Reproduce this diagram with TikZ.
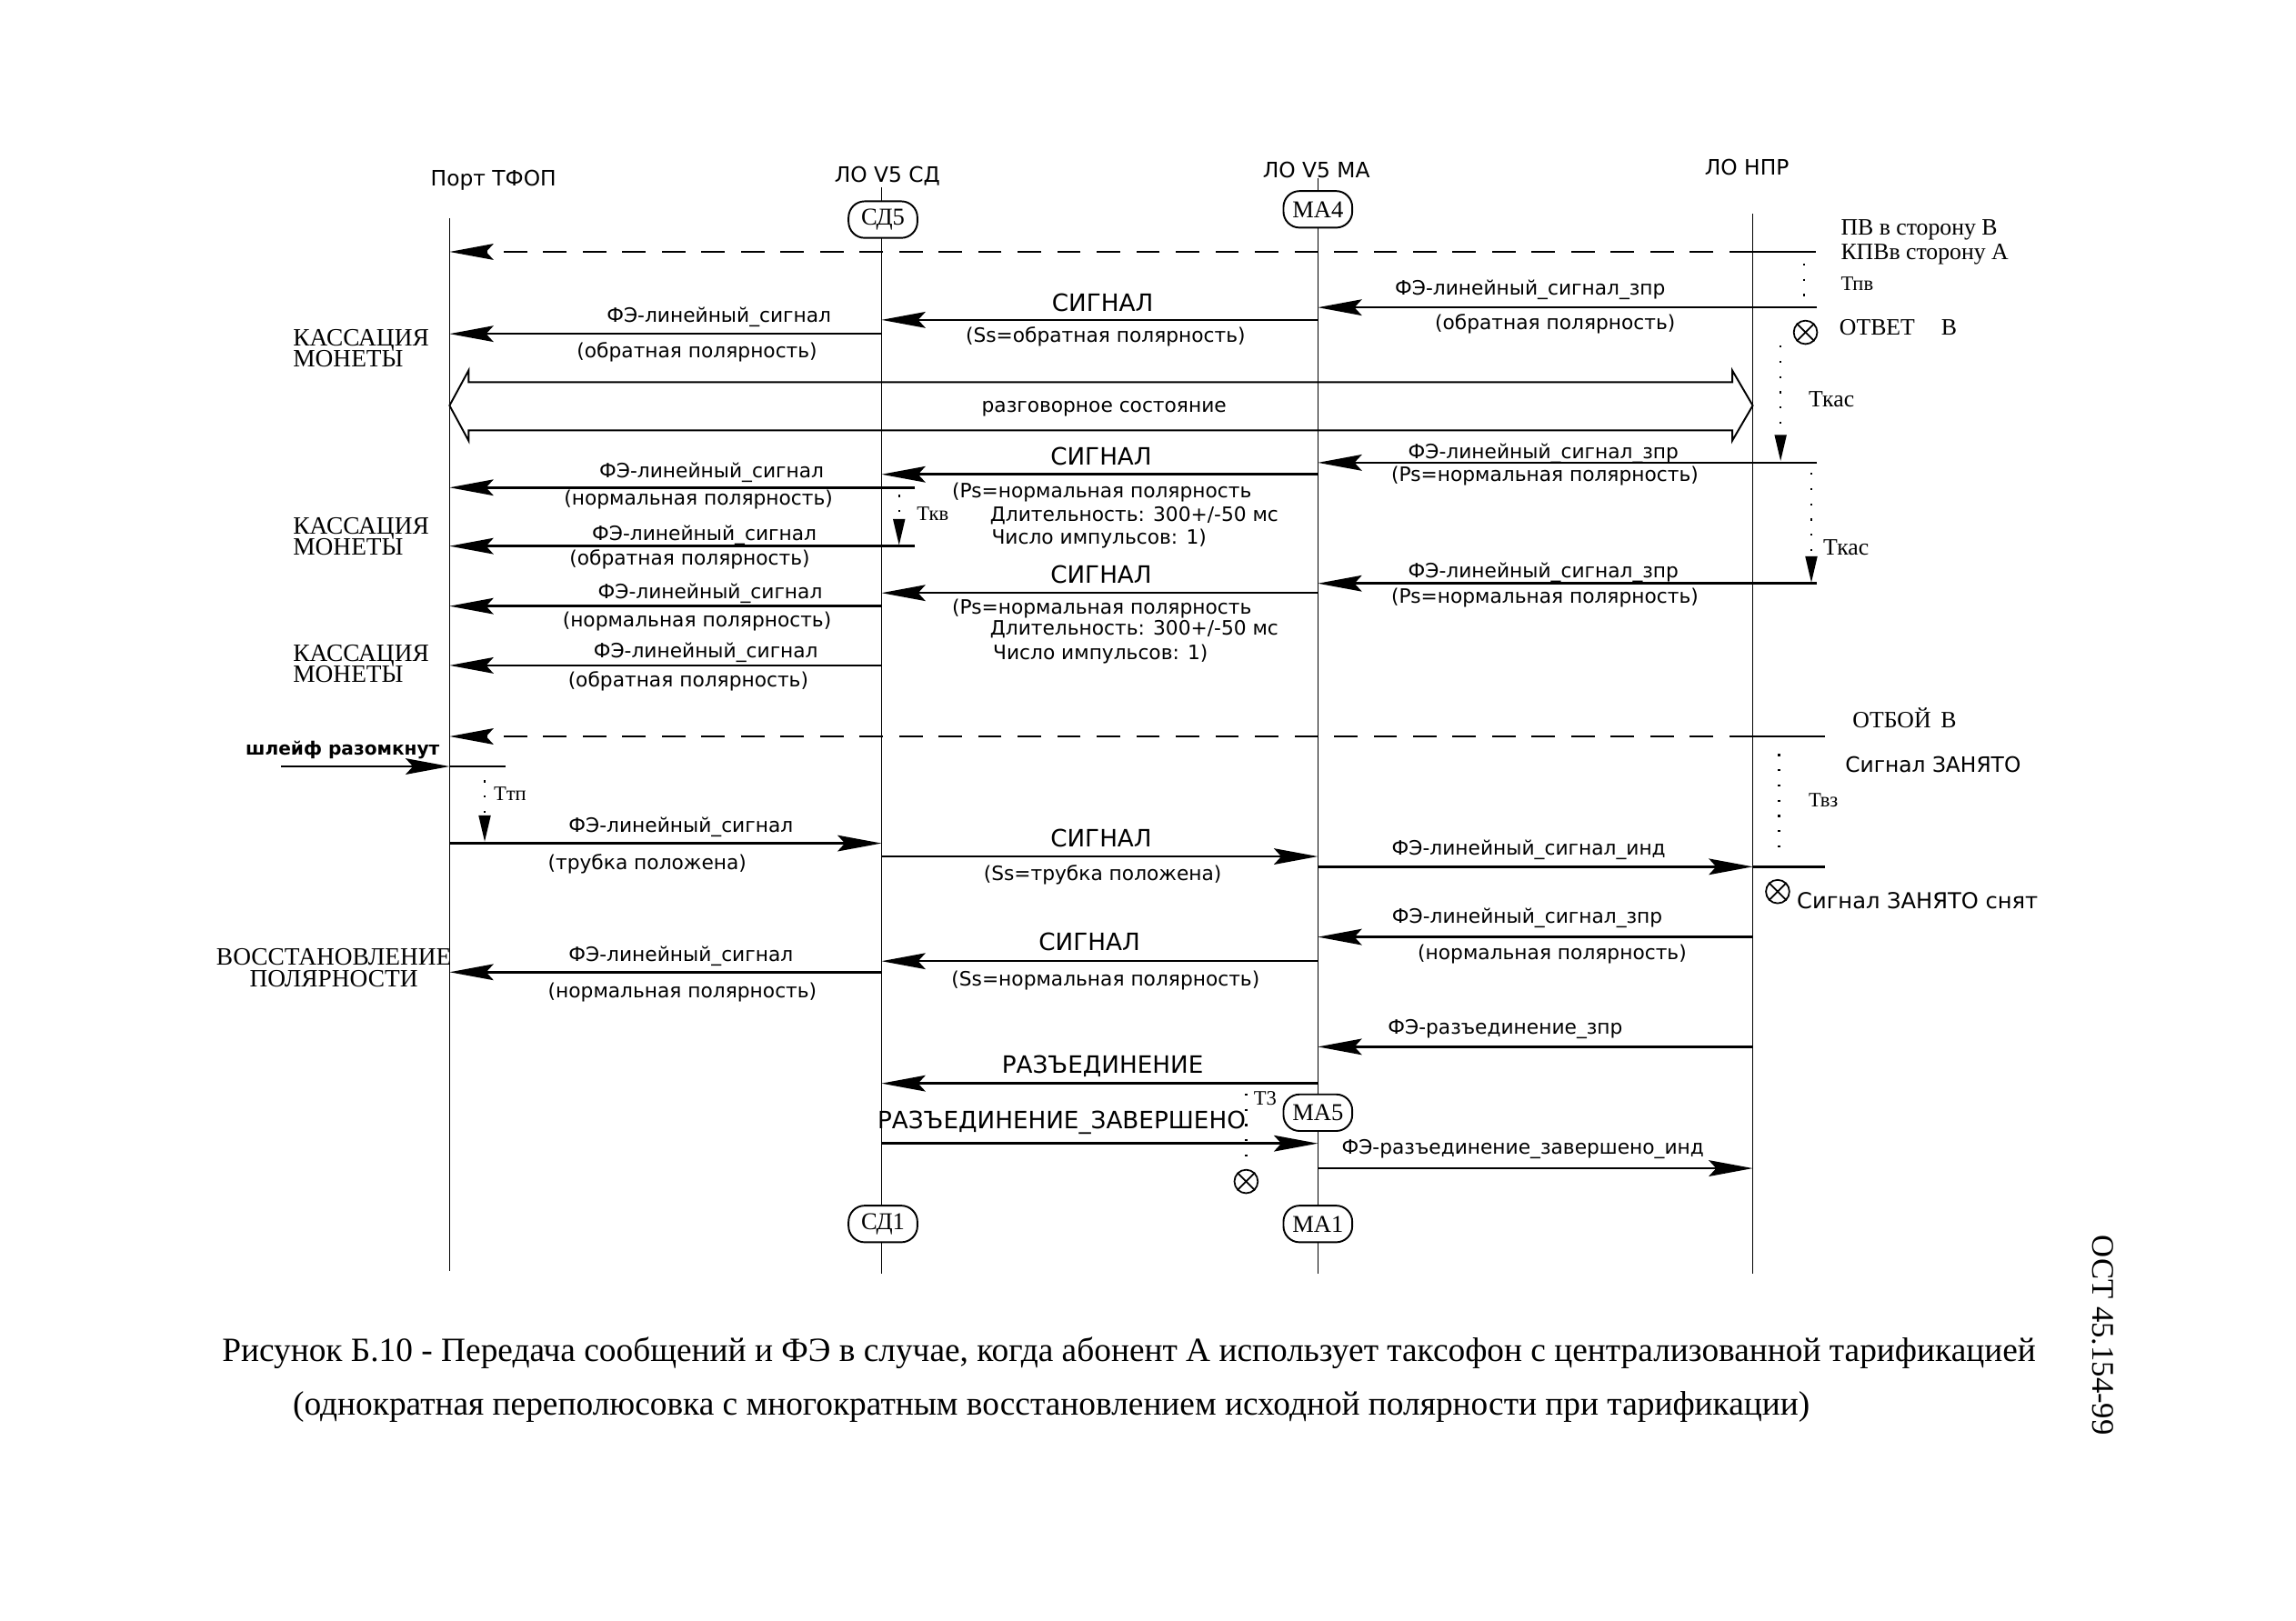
\documentclass[tikz,border=0pt]{standalone}
\usepackage{fontspec}
\setmainfont{Liberation Serif}
\newfontfamily\dsans{DejaVu Sans}
\usetikzlibrary{arrows.meta}
\newcommand\myfs[1]{\fontsize{#1}{#1}\selectfont}
\newcommand\mmsg[5]{\coordinate (#2a) at (#3,#5); \coordinate (#2b) at (#4,#5); \draw[#1] (#2a) -- (#2b);}
\newcommand\vtm[5]{\coordinate (#2a) at (#3,#4); \coordinate (#2b) at (#3,#5); \draw[#1] (#2a) -- (#2b);}
\begin{document}
\begin{tikzpicture}[x=1pt,y=-1pt,
 life/.style={line width=1pt},
 seg/.style={line width=1.6pt},
 msg/.style={line width=1.6pt,-{Stealth[length=30pt,width=11pt,inset=5pt]}},
 dmsg/.style={msg,dash pattern=on 16pt off 11pt},
 st/.style={draw,line width=1.2pt,rounded corners=11pt,fill=white,minimum width=47pt,minimum height=25pt,inner sep=0pt,font=\myfs{16.5}},
 lab/.style={inner sep=0pt,font=\dsans\myfs{13.5}},
 big/.style={inner sep=0pt,font=\dsans\myfs{16.3}},
 hdr/.style={inner sep=0pt,font=\dsans\myfs{14.5}},
 ws/.style={inner sep=0pt,font=\myfs{17},align=left},
 wss/.style={inner sep=0pt,font=\myfs{16}},
 tm/.style={inner sep=0pt,font=\myfs{14}},
 tmr/.style={line width=1.4pt,dash pattern=on 1.4pt off 9pt},
 tri/.style={-{Triangle[length=18pt,width=8pt]}},
 ox/.style={circle,draw,line width=1.1pt,minimum size=16pt,inner sep=0pt},
]
\useasboundingbox (0,0) rectangle (1568,1106.6);
% headers
\node[hdr] (hP) at (337,123) {Порт ТФОП};
\node[hdr] (hS) at (606,120) {ЛО V5 СД};
\node[hdr] (hM) at (899,116) {ЛО V5 МА};
\node[hdr] (hN) at (1193,114) {ЛО НПР};
% lifelines
\coordinate (Pt) at (307,149); \coordinate (Pb) at (307,868);
\coordinate (St) at (602,128); \coordinate (Sb) at (602,870);
\coordinate (Mt) at (900,122); \coordinate (Mb) at (900,870);
\coordinate (Nt) at (1197,146); \coordinate (Nb) at (1197,870);
\draw[life] (Pt)--(Pb) (St)--(Sb) (Mt)--(Mb) (Nt)--(Nb);
% state boxes
\node[st] (sd5) at (603,150) {СД5};
\node[st] (ma4) at (900,143) {МА4};
\node[st] (ma5) at (900,760) {МА5};
\node[st] (sd1) at (603,836) {СД1};
\node[st] (ma1) at (900,836) {МА1};
% big two-way arrow
\draw[line width=1.2pt] (307,277) -- (320,253) -- (320,261) -- (1183,261) -- (1183,253) -- (1197,277) -- (1183,301) -- (1183,294) -- (320,294) -- (320,301) -- cycle;
\node[lab] (talk) at (754,279) {разговорное состояние};
% messages
\mmsg{dmsg}{m1}{1197}{307}{172}
\mmsg{seg}{m1x}{1197}{1240}{172}
\mmsg{msg}{m2}{1241}{900}{210}
\mmsg{msg}{m3}{900}{602}{218.5}
\mmsg{msg}{m4}{602}{307}{228}
\mmsg{msg}{m5}{1241}{900}{316}
\mmsg{msg}{m6}{900}{602}{324}
\mmsg{msg}{m7}{625}{307}{333}
\mmsg{msg}{m8}{625}{307}{373}
\mmsg{msg}{m9}{1241}{900}{398.5}
\mmsg{msg}{m10}{900}{602}{405}
\mmsg{msg}{m11}{602}{307}{414}
\mmsg{msg}{m12}{602}{307}{454.5}
\mmsg{dmsg}{m13}{1197}{307}{503}
\mmsg{seg}{m13x}{1197}{1246}{503}
\mmsg{msg}{m14}{192}{307}{523.5}
\mmsg{seg}{m14x}{307}{345}{523.5}
\mmsg{msg}{m15}{307}{602}{576}
\mmsg{msg}{m16}{602}{900}{585}
\mmsg{msg}{m17}{900}{1197}{592}
\mmsg{seg}{m17x}{1197}{1246}{592}
\mmsg{msg}{m18}{1197}{900}{640}
\mmsg{msg}{m19}{900}{602}{656.5}
\mmsg{msg}{m20}{602}{307}{664}
\mmsg{msg}{m21}{1197}{900}{715}
\mmsg{msg}{m22}{900}{602}{740}
\mmsg{msg}{m23}{602}{900}{781}
\mmsg{msg}{m24}{900}{1197}{798}
% timers
\vtm{tmr}{tpv}{1232}{180}{204}
\vtm{tmr,tri}{tkas1}{1216}{236}{315}
\vtm{tmr,tri}{tkv}{614}{338}{372.5}
\vtm{tmr,tri}{tkas2}{1237}{323}{398}
\vtm{tmr,tri}{ttp}{331}{533}{575}
\vtm{tmr}{tvz}{1215}{515}{585}
\vtm{tmr}{tz}{851}{747}{797}
% crossed circles
\node[ox] (o1) at (1233,227) {}; \draw[line width=1.1pt] (o1.45)--(o1.225) (o1.135)--(o1.315);
\node[ox] (o2) at (1214,609) {}; \draw[line width=1.1pt] (o2.45)--(o2.225) (o2.135)--(o2.315);
\node[ox] (o3) at (851,807) {}; \draw[line width=1.1pt] (o3.45)--(o3.225) (o3.135)--(o3.315);
% right side notes
\node[wss,anchor=west] (n1) at (1257,157) {ПВ в сторону В};
\node[wss,anchor=west] (n2) at (1257,174) {КПВв сторону А};
\node[tm,anchor=west] (n3) at (1257,194) {Тпв};
\node[wss,anchor=west] (n4) at (1256,223.5) {ОТВЕТ\hspace{18pt}В};
\node[wss,anchor=west] (n5) at (1235,273) {Ткас};
\node[wss,anchor=west] (n6) at (1245,374) {Ткас};
\node[wss,anchor=west] (n7) at (1265,490.5) {ОТБОЙ\, В};
\node[lab,font=\dsans\myfs{14.5},anchor=west] (n8) at (1260,522.5) {Сигнал ЗАНЯТО};
\node[tm,anchor=west] (n9) at (1235,546.5) {Твз};
\node[lab,font=\dsans\myfs{15},anchor=west] (n10) at (1227,615) {Сигнал ЗАНЯТО снят};
\node[tm,anchor=west] (n11) at (626,351) {Ткв};
\node[tm,anchor=west] (n12) at (337,542) {Ттп};
\node[tm,anchor=west] (n13) at (856,750) {Т3};
% left side notes
\node[ws,anchor=west] (k1) at (200,238) {КАССАЦИЯ\\[-3pt]МОНЕТЫ};
\node[ws,anchor=west] (k2) at (200,366.5) {КАССАЦИЯ\\[-3pt]МОНЕТЫ};
\node[ws,anchor=west] (k3) at (200,453.5) {КАССАЦИЯ\\[-3pt]МОНЕТЫ};
\node[ws,align=center] (k4) at (228,661) {ВОССТАНОВЛЕНИЕ\\[-2pt]ПОЛЯРНОСТИ};
\node[inner sep=0pt,font=\dsans\bfseries\myfs{12.5}] (k5) at (234,512) {шлейф разомкнут};
% labels block 1
\node[lab] (l2a) at (1045,198) {ФЭ-линейный\_сигнал\_зпр};
\node[lab] (l2b) at (1062,221) {(обратная полярность)};
\node[big] (l3a) at (753,206.5) {СИГНАЛ};
\node[lab] (l3b) at (755,230) {(Ss=обратная полярность)};
\node[lab] (l4a) at (491,216.5) {ФЭ-линейный\_сигнал};
\node[lab] (l4b) at (476,240.5) {(обратная полярность)};
% block 2
\node[lab] (l5a) at (1054,309.5) {ФЭ-линейный\_сигнал\_зпр};
\node[lab] (l5b) at (1055,325) {(Ps=нормальная полярность)};
\node[big] (l6a) at (752,311.5) {СИГНАЛ};
\node[lab,anchor=west] (l6b) at (650,336.5) {(Ps=нормальная полярность};
\node[lab,anchor=west] (l6c) at (676,352) {Длительность: 300+/-50 мс};
\node[lab,anchor=west] (l6d) at (677,368) {Число импульсов: 1)};
\node[lab] (l7a) at (486,323) {ФЭ-линейный\_сигнал};
\node[lab] (l7b) at (477,341.5) {(нормальная полярность)};
\node[lab] (l8a) at (481,365.5) {ФЭ-линейный\_сигнал};
\node[lab] (l8b) at (471,382) {(обратная полярность)};
\node[lab] (l9a) at (1054,391) {ФЭ-линейный\_сигнал\_зпр};
\node[lab] (l9b) at (1055,408) {(Ps=нормальная полярность)};
\node[big] (l10a) at (752,392.5) {СИГНАЛ};
\node[lab,anchor=west] (l10b) at (650,416) {(Ps=нормальная полярность};
\node[lab,anchor=west] (l10c) at (676,430) {Длительность: 300+/-50 мс};
\node[lab,anchor=west] (l10d) at (678,447) {Число импульсов: 1)};
\node[lab] (l11a) at (485,405.5) {ФЭ-линейный\_сигнал};
\node[lab] (l11b) at (476,424.5) {(нормальная полярность)};
\node[lab] (l12a) at (482,446) {ФЭ-линейный\_сигнал};
\node[lab] (l12b) at (470,465.5) {(обратная полярность)};
% block 3
\node[lab] (l15a) at (465,565) {ФЭ-линейный\_сигнал};
\node[lab] (l15b) at (442,590) {(трубка положена)};
\node[big] (l16a) at (752,572.5) {СИГНАЛ};
\node[lab] (l16b) at (753,597.5) {(Ss=трубка положена)};
\node[lab] (l17a) at (1044,580.5) {ФЭ-линейный\_сигнал\_инд};
\node[lab] (l18a) at (1043,627) {ФЭ-линейный\_сигнал\_зпр};
\node[lab] (l18b) at (1060,652) {(нормальная полярность)};
\node[big] (l19a) at (744,643) {СИГНАЛ};
\node[lab] (l19b) at (755,669.5) {(Ss=нормальная полярность)};
\node[lab] (l20a) at (465,653) {ФЭ-линейный\_сигнал};
\node[lab] (l20b) at (466,678) {(нормальная полярность)};
\node[lab] (l21a) at (1028,703) {ФЭ-разъединение\_зпр};
\node[big] (l22a) at (753,728) {РАЗЪЕДИНЕНИЕ};
\node[big] (l23a) at (725,767) {РАЗЪЕДИНЕНИЕ\_ЗАВЕРШЕНО};
\node[lab] (l24a) at (1040,785) {ФЭ-разъединение\_завершено\_инд};
% caption
\node[inner sep=0pt,font=\myfs{23.2}] (cap1) at (771,924) {Рисунок Б.10 - Передача сообщений и ФЭ в случае, когда абонент А использует таксофон с централизованной тарификацией};
\node[inner sep=0pt,font=\myfs{23.2}] (cap2) at (718,961) {(однократная переполюсовка с многократным восстановлением исходной полярности при тарификации)};
\node[inner sep=0pt,font=\myfs{21.5},rotate=-90] (ost) at (1436,912) {ОСТ 45.154-99};
\end{tikzpicture}
\end{document}
